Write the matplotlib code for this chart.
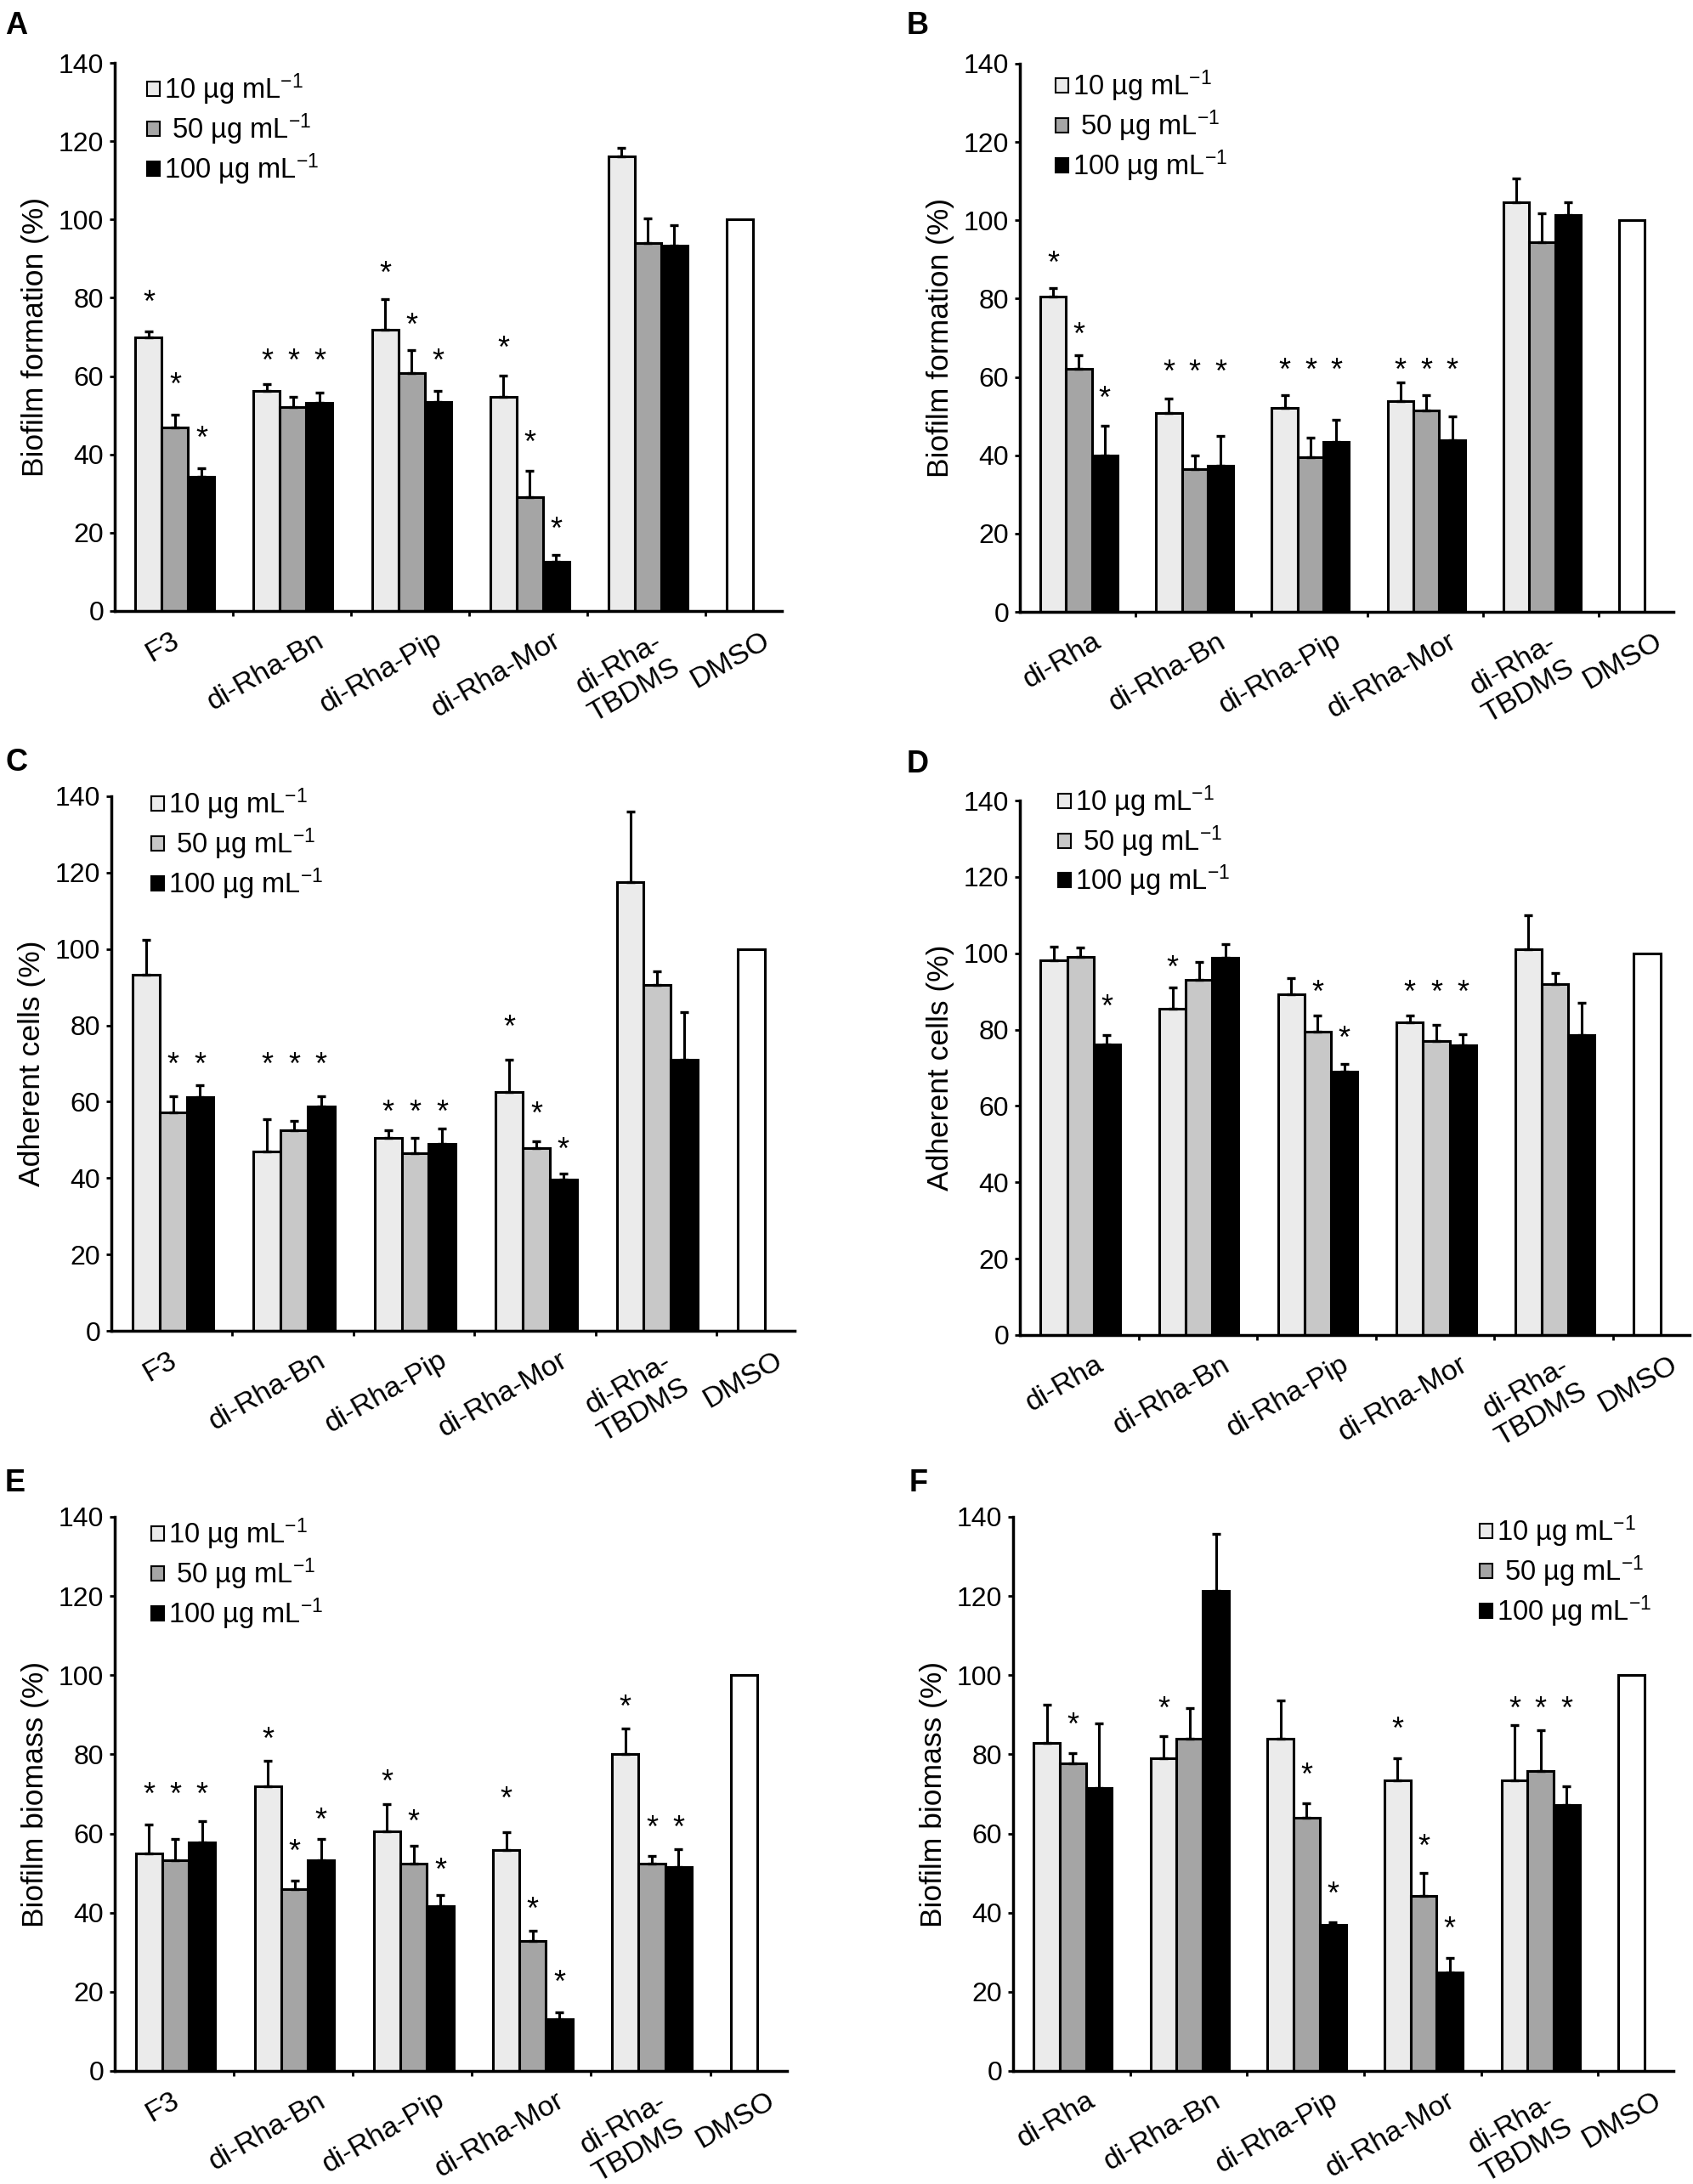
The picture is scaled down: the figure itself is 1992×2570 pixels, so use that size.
import numpy as np
import matplotlib
matplotlib.use("Agg")
import matplotlib.pyplot as plt
from matplotlib.patches import Patch

plt.rcParams['font.family'] = ['Liberation Sans', 'DejaVu Sans']
plt.rcParams['mathtext.default'] = 'regular'

# ---- data ----
cats_F3 = ["F3", "di-Rha-Bn", "di-Rha-Pip", "di-Rha-Mor", "di-Rha-\nTBDMS", "DMSO"]
cats_diRha = ["di-Rha", "di-Rha-Bn", "di-Rha-Pip", "di-Rha-Mor", "di-Rha-\nTBDMS", "DMSO"]
conc_labels = ["10 µg mL$^{-1}$", " 50 µg mL$^{-1}$", "100 µg mL$^{-1}$"]
dmso_value = 100

# rows: 10, 50, 100 µg/mL ; columns: the five compounds
A_mean = [[70.0, 56.3, 71.8, 54.6, 116.1],
          [46.9, 52.0, 60.7, 29.0, 93.9],
          [34.3, 53.1, 53.4, 12.5, 93.3]]
A_err = [[1.4, 1.7, 7.9, 5.5, 2.2],
         [3.2, 2.8, 5.9, 6.8, 6.3],
         [2.2, 2.7, 2.9, 1.8, 5.2]]
A_star = [[81, 66, 88.4, 69.3, None],
          [59.9, 66, 75.2, 45.1, None],
          [46.3, 66, 66, 23, None]]

B_mean = [[80.6, 50.8, 52.0, 53.8, 104.7],
          [62.1, 36.5, 39.4, 51.4, 94.4],
          [40.0, 37.3, 43.5, 43.9, 101.4]]
B_err = [[2.1, 3.7, 3.3, 4.8, 6.1],
         [3.4, 3.5, 5.0, 3.9, 7.4],
         [7.6, 7.6, 5.6, 6.1, 3.3]]
B_star = [[91.2, 63.3, 63.8, 63.8, None],
          [72.9, 63.3, 63.8, 63.8, None],
          [56.7, 63.3, 63.8, 63.8, None]]

C_mean = [[93.3, 47.0, 50.6, 62.5, 117.6],
          [57.1, 52.5, 46.5, 47.8, 90.5],
          [61.1, 58.8, 48.9, 39.6, 71.0]]
C_err = [[9.1, 8.4, 1.9, 8.6, 18.4],
         [4.3, 2.4, 4.1, 1.8, 3.7],
         [3.2, 2.6, 4.1, 1.6, 12.4]]
C_star = [[None, 71.9, 59.5, 81.6, None],
          [71.9, 71.9, 59.5, 59.0, None],
          [71.9, 71.9, 59.5, 49.6, None]]

D_mean = [[98.1, 85.5, 89.2, 81.8, 101.0],
          [99.0, 93.0, 79.4, 77.1, 92.0],
          [76.1, 98.8, 68.9, 75.8, 78.6]]
D_err = [[3.7, 5.6, 4.3, 1.8, 8.9],
         [2.4, 4.6, 4.2, 4.1, 2.8],
         [2.5, 3.5, 2.1, 3.0, 8.4]]
D_star = [[None, 98.4, None, 92.0, None],
          [None, None, 92.0, 92.0, None],
          [88.2, None, 80.0, 92.0, None]]

E_mean = [[55.0, 72.0, 60.5, 55.9, 80.1],
          [53.3, 45.9, 52.4, 32.8, 52.3],
          [57.7, 53.3, 41.7, 13.1, 51.6]]
E_err = [[7.2, 6.4, 6.9, 4.5, 6.5],
         [5.4, 2.1, 4.5, 2.6, 2.0],
         [5.4, 5.4, 2.8, 1.8, 4.4]]
E_star = [[72.0, 86.0, 75.2, 70.9, 94.1],
          [72.0, 57.5, 65.1, 43.0, 63.6],
          [72.0, 65.6, 52.9, 24.4, 63.6]]

F_mean = [[82.9, 79.1, 84.0, 73.5, 73.5],
          [77.7, 84.0, 64.0, 44.3, 75.9],
          [71.6, 121.4, 36.9, 24.9, 67.3]]
F_err = [[9.6, 5.6, 9.7, 5.6, 13.8],
         [2.6, 7.6, 3.7, 5.7, 10.2],
         [16.3, 14.2, 0.6, 3.6, 4.7]]
F_star = [[None, 93.7, None, 88.4, 93.7],
          [89.6, None, 76.8, 58.8, 93.7],
          [None, None, 46.9, 38.1, 93.7]]

# ---- layout / style ----
W, H = 1992, 2570
def px_rect(l, t, r, b):
    return [l / W, 1 - b / H, (r - l) / W, (b - t) / H]

light, dark_gray, light_gray = "#ebebeb", "#a5a5a5", "#c8c8c8"
bar_w = 0.223
fs_tick, fs_xlab, fs_leg, fs_ylab, fs_star = 23, 24.5, 23.5, 25.5, 26
label_shift = {"F3": -0.03, "DMSO": -0.03, "di-Rha": 0.13, "di-Rha-\nTBDMS": 0.08}

panels = [
    # letter, axes rect, letter pos (px), ylabel, categories, data, mid colour, legend anchor
    ("A", px_rect(135, 74, 920, 719), (6, 13), "Biofilm formation (%)", cats_F3,
     A_mean, A_err, A_star, dark_gray, (0.048, 0.983)),
    ("B", px_rect(1200, 75, 1969, 720), (1067, 13), "Biofilm formation (%)", cats_diRha,
     B_mean, B_err, B_star, dark_gray, (0.054, 0.991)),
    ("C", px_rect(131, 937, 935, 1566), (6, 880), "Adherent cells (%)", cats_F3,
     C_mean, C_err, C_star, light_gray, (0.058, 1.018)),
    ("D", px_rect(1200, 942, 1988, 1571), (1067, 882), "Adherent cells (%)", cats_diRha,
     D_mean, D_err, D_star, light_gray, (0.057, 1.031)),
    ("E", px_rect(135, 1785, 926, 2437), (6, 1728), "Biofilm biomass (%)", cats_F3,
     E_mean, E_err, E_star, dark_gray, (0.054, 1.0)),
    ("F", px_rect(1192, 1785, 1969, 2437), (1070, 1728), "Biofilm biomass (%)", cats_diRha,
     F_mean, F_err, F_star, dark_gray, (0.706, 1.005)),
]

fig = plt.figure(figsize=(W / 100, H / 100), dpi=100)

for letter, rect, lpos, ylabel, cats, mean, err, star, mid, leg_anchor in panels:
    ax = fig.add_axes(rect)
    colors = [light, mid, "black"]
    centers = np.arange(5) + 0.51

    for k in range(3):
        x = centers + (k - 1) * bar_w
        ax.bar(x, mean[k], width=bar_w, color=colors[k], edgecolor="black",
               linewidth=2.2, zorder=2)
        ax.errorbar(x, mean[k], yerr=[np.zeros(5), err[k]], fmt="none",
                    ecolor="black", elinewidth=2.2, capsize=3.4, capthick=2.4, zorder=3)
        for xi, sy in zip(x, star[k]):
            if sy is not None:
                ax.annotate("*", (xi, sy), xytext=(0, -0.32 * fs_star),
                            textcoords="offset points", ha="center", va="center",
                            fontsize=fs_star)

    # DMSO control
    ax.bar(5 + 0.51 - bar_w, dmso_value, width=bar_w, color="white",
           edgecolor="black", linewidth=2.2, zorder=2)

    ax.set_xlim(0, 5.645)
    ax.set_ylim(0, 140)
    ax.set_yticks(np.arange(0, 141, 20))
    ax.tick_params(axis="y", labelsize=fs_tick, length=4.3, width=2, pad=5)

    tick_pos = [i + 0.5 + label_shift.get(c, 0.2) for i, c in enumerate(cats)]
    ax.set_xticks(tick_pos)
    ax.set_xticklabels(cats, rotation=30, ha="right", va="top",
                       rotation_mode="anchor", multialignment="center")
    ax.tick_params(axis="x", which="major", labelsize=fs_xlab, length=0, pad=14)
    ax.set_xticks(np.arange(1, 6), minor=True)
    ax.tick_params(axis="x", which="minor", length=4.3, width=2, direction="out")

    for s in ["top", "right"]:
        ax.spines[s].set_visible(False)
    for s in ["left", "bottom"]:
        ax.spines[s].set_linewidth(2.5)

    ax.set_ylabel(ylabel, fontsize=fs_ylab, labelpad=8)

    handles = [Patch(facecolor=c, edgecolor="black", linewidth=1.5) for c in colors]
    ax.legend(handles, conc_labels, loc="upper left", bbox_to_anchor=leg_anchor,
              frameon=False, fontsize=fs_leg, handlelength=0.47, handleheight=0.42,
              handletextpad=0.15, labelspacing=0.16, borderpad=0, borderaxespad=0)

    fig.text(lpos[0] / W, 1 - lpos[1] / H, letter, fontsize=26, fontweight="bold",
             ha="left", va="top")

fig.savefig("out.png", dpi=100)
